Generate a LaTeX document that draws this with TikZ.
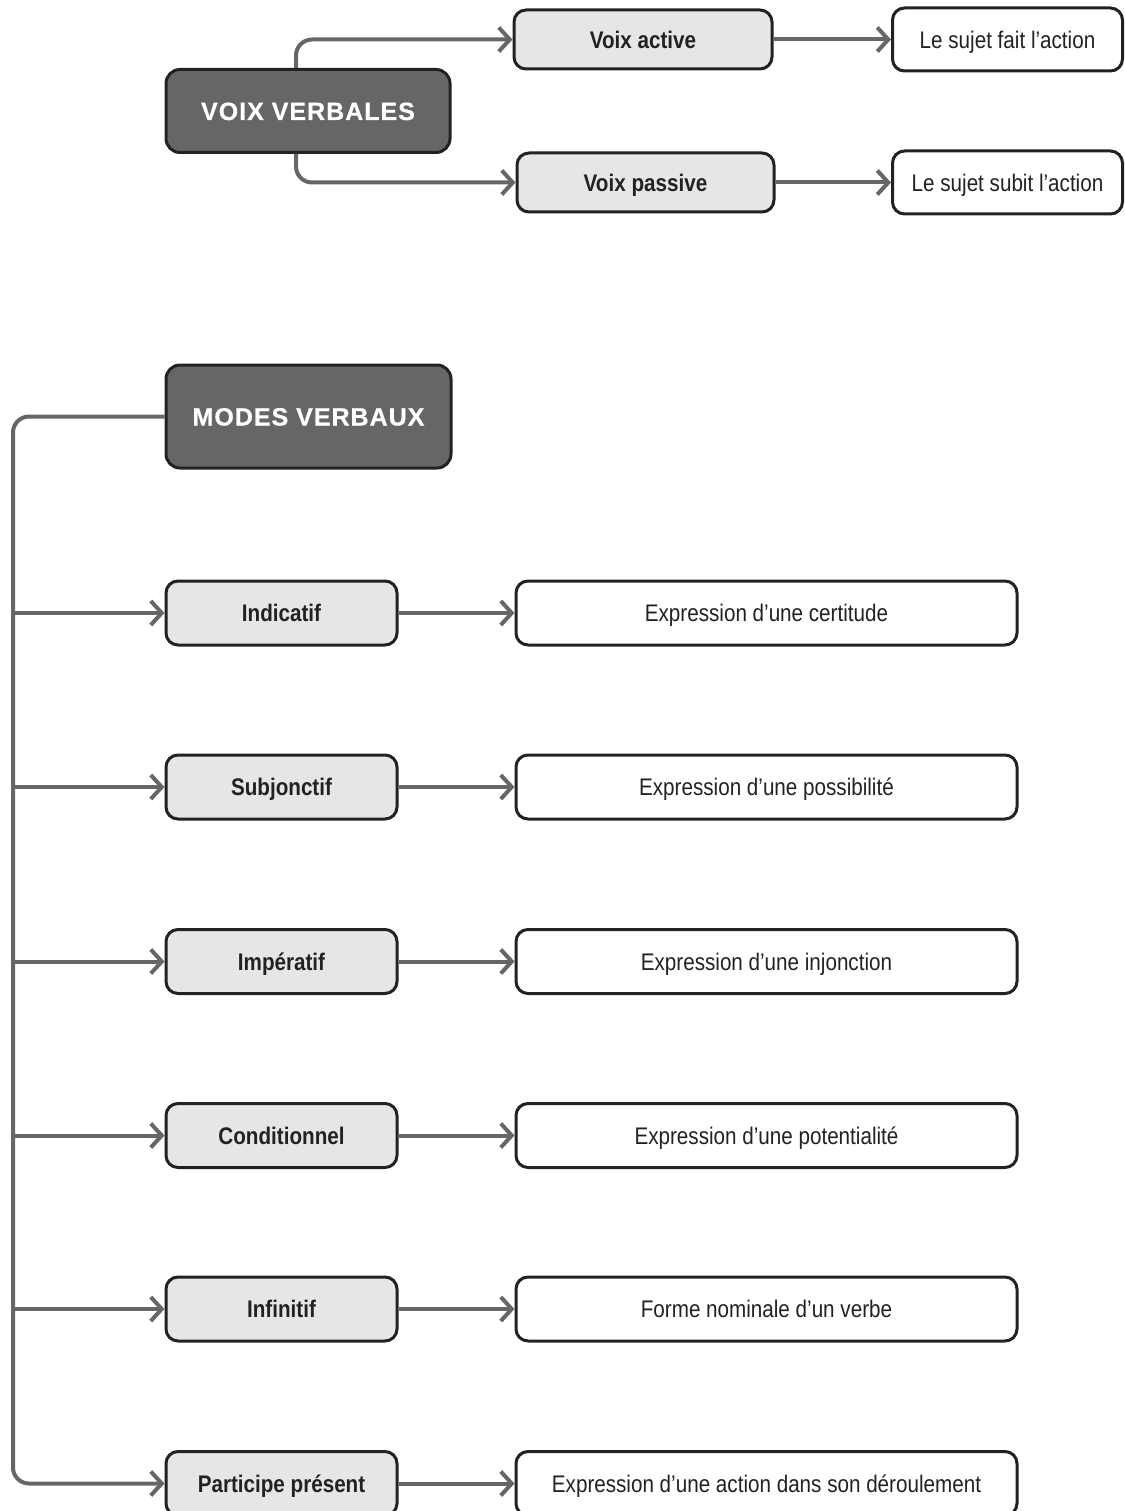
\documentclass[tikz,border=0pt]{standalone}
\usepackage{fontspec}
\setmainfont{Liberation Sans}[FakeStretch=0.86]
\newfontfamily\headfont{Liberation Sans}[LetterSpace=4,FakeBold=0.6]
\usetikzlibrary{arrows.meta}
\definecolor{dark}{HTML}{666666}
\definecolor{edge}{HTML}{222222}
\definecolor{light}{HTML}{E6E6E6}
\definecolor{wire}{HTML}{666666}
\begin{document}
\begin{tikzpicture}[x=1pt,y=-1pt,
  head/.style={draw=edge, line width=3pt, fill=dark, rounded corners=14pt, text=white,
    font=\headfont\bfseries\fontsize{25}{28}\selectfont, inner sep=0pt,
    text height=18pt, text depth=0pt},
  mid/.style={draw=edge, line width=3pt, fill=light, rounded corners=12pt, text=edge,
    font=\bfseries\fontsize{24}{28}\selectfont, inner sep=0pt,
    text height=17.2pt, text depth=0pt},
  leaf/.style={draw=edge, line width=3pt, fill=white, rounded corners=12pt, text=edge,
    font=\fontsize{24}{28}\selectfont, inner sep=0pt,
    text height=17.2pt, text depth=0pt},
  conn/.style={draw=wire, line width=4pt, rounded corners=16pt,
    -{Straight Barb[length=11pt,width=24pt]}}
]
\useasboundingbox (0,0) rectangle (1124,1511);

% Voix verbales
\node[head, minimum width=284pt, minimum height=83pt] (vv) at (308,111) {VOIX VERBALES};
\node[mid, minimum width=258pt, minimum height=59pt] (va) at (643,39.5) {Voix active};
\node[mid, minimum width=257pt, minimum height=59pt] (vp) at (645.5,182.5) {Voix passive};
\node[leaf, minimum width=230pt, minimum height=63pt] (la) at (1007.5,39.5) {Le sujet fait l’action};
\node[leaf, minimum width=230pt, minimum height=63pt] (lp) at (1007.5,182.5) {Le sujet subit l’action};

\draw[conn] ([xshift=-12pt]vv.north) |- (va.west);
\draw[conn] ([xshift=-12pt]vv.south) |- (vp.west);
\draw[conn] (va.east) -- (la.west);
\draw[conn] (vp.east) -- (lp.west);

% Modes verbaux
\node[head, minimum width=285pt, minimum height=103pt] (mv) at (308.5,416.5) {MODES VERBAUX};

\foreach \n/\y/\a/\b in {
  m1/613/Indicatif/Expression d’une certitude,
  m2/787/Subjonctif/Expression d’une possibilité,
  m3/961.5/Impératif/Expression d’une injonction,
  m4/1135.5/Conditionnel/Expression d’une potentialité,
  m5/1309/Infinitif/Forme nominale d’un verbe,
  m6/1483.5/Participe présent/Expression d’une action dans son déroulement}{
  \node[mid, minimum width=231pt, minimum height=64pt] (\n) at (281.5,\y) {\a};
  \node[leaf, minimum width=501pt, minimum height=64pt] (\n e) at (766.5,\y) {\b};
  \draw[conn] (\n.east) -- (\n e.west);
}

\coordinate (tl) at (13,416.5);
\coordinate (bl) at (13,1483.5);
\draw[conn] (mv.west) -- (tl) -- (bl) -- (m6.west);
\foreach \n in {m1,m2,m3,m4,m5}{
  \draw[conn, rounded corners=0pt] (\n.west -| bl) -- (\n.west);
}
\end{tikzpicture}
\end{document}
